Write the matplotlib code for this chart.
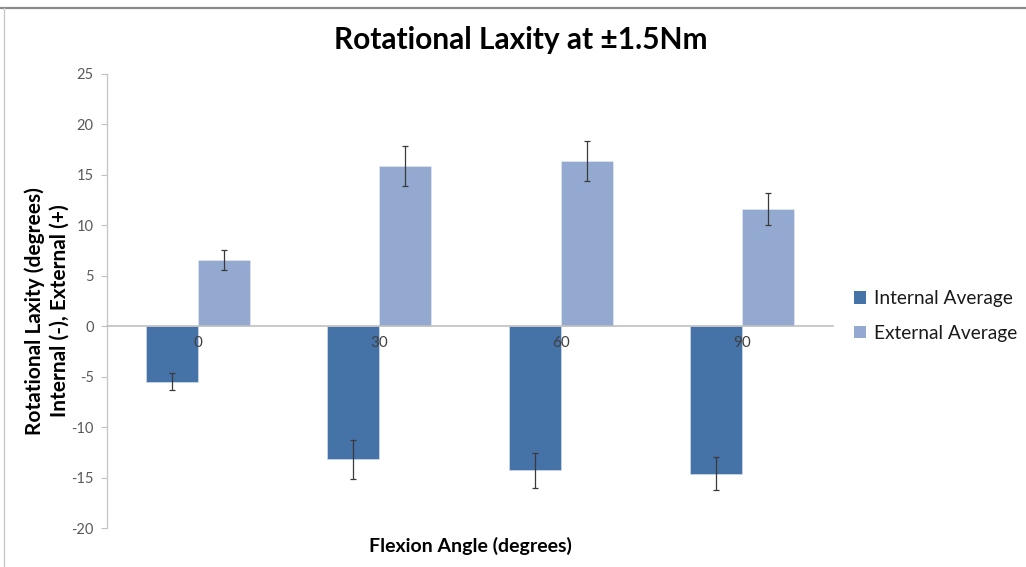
import matplotlib
matplotlib.use("Agg")
import matplotlib.pyplot as plt
from matplotlib.lines import Line2D
import numpy as np

# Data
angles = ["0", "30", "60", "90"]
internal_avg = [-5.5, -13.2, -14.3, -14.6]
internal_err = [0.85, 1.9, 1.7, 1.6]
external_avg = [6.6, 15.9, 16.4, 11.65]
external_err = [1.0, 2.0, 2.0, 1.6]
series_names = ["Internal Average", "External Average"]

FONT = ["Lato", "DejaVu Sans"]
plt.rcParams["font.family"] = FONT

c_int = "#4572A7"
c_ext = "#93A9CF"

fig = plt.figure(figsize=(10.26, 5.67), dpi=100)
ax = fig.add_axes([107 / 1026, 1 - 528 / 567, 726 / 1026, 454 / 567])

x = np.arange(len(angles))
w = 0.2865
ekw = dict(ecolor="#3a3a3a", elinewidth=0.9, capsize=2.4, capthick=0.9)
ax.bar(x - w / 2, internal_avg, w, color=c_int, edgecolor="#dce4f0", linewidth=0.4,
       yerr=internal_err, error_kw=ekw, label=series_names[0], zorder=2)
ax.bar(x + w / 2, external_avg, w, color=c_ext, edgecolor="#e6ebf4", linewidth=0.4,
       yerr=external_err, error_kw=ekw, label=series_names[1], zorder=2)

ax.set_xlim(-0.5, len(angles) - 0.5)
ax.set_ylim(-20, 25)
ax.set_yticks(np.arange(-20, 26, 5))
ax.set_yticklabels([str(v) for v in range(-20, 26, 5)])
ax.set_xticks(x)
ax.set_xticklabels(angles)
ax.xaxis.set_zorder(5)

for s in ["top", "right"]:
    ax.spines[s].set_visible(False)
ax.spines["bottom"].set_position(("data", 0))
ax.spines["bottom"].set_color("#c0c0c0")
ax.spines["bottom"].set_linewidth(1.2)
ax.spines["bottom"].set_zorder(3)
ax.spines["left"].set_color("#c8c8c8")
ax.spines["left"].set_linewidth(1.0)

ax.tick_params(axis="y", length=4.5, width=0.8, color="#c0c0c0", pad=5,
               labelsize=10.5, labelcolor="#595959")
ax.tick_params(axis="x", length=0, pad=7, labelsize=11, labelcolor="#404040")

fig.text(521 / 1026, 1 - 40 / 567, "Rotational Laxity at \u00b11.5Nm", ha="center",
         va="center", fontsize=21.5, fontweight="bold", color="black")
fig.text(470 / 1026, 1 - 546 / 567, "Flexion Angle (degrees)", ha="center",
         va="center", fontsize=14, fontweight="bold", color="black")
fig.text(47 / 1026, 1 - 311 / 567,
         "Rotational Laxity (degrees)\nInternal (-), External (+)",
         ha="center", va="center", rotation=90, fontsize=15, fontweight="bold",
         color="black", linespacing=1.3, multialignment="center")

leg = fig.legend(loc="center left", bbox_to_anchor=(854 / 1026, 1 - 316 / 567),
                 frameon=False, fontsize=13.8, handlelength=0.62, handleheight=0.62,
                 handletextpad=0.4, labelspacing=0.9, borderaxespad=0, borderpad=0)
for t in leg.get_texts():
    t.set_color("#1a1a1a")
for h in leg.legend_handles:
    h.set_edgecolor("none")

# Chart area border
fig.add_artist(Line2D([0, 1], [1 - 7.5 / 567] * 2, transform=fig.transFigure,
                      color="#8a8a8a", lw=1.6))
fig.add_artist(Line2D([4 / 1026] * 2, [0, 1 - 7.5 / 567], transform=fig.transFigure,
                      color="#c8c8c8", lw=1.0))

fig.savefig("out.png", dpi=100)
